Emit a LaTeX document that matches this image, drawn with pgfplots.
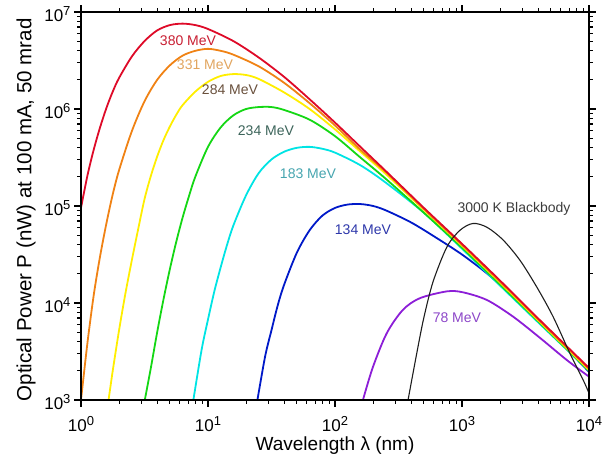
\documentclass[border=0pt]{standalone}
\usepackage{pgfplots}
\pgfplotsset{compat=1.18}
\usepackage{fontspec}
\setmainfont{Liberation Sans}

\definecolor{cRed}{RGB}{222,10,40}
\definecolor{cOrange}{RGB}{240,130,20}
\definecolor{cYellow}{RGB}{255,238,0}
\definecolor{cGreen}{RGB}{20,215,20}
\definecolor{cCyan}{RGB}{0,228,228}
\definecolor{cBlue}{RGB}{0,25,200}
\definecolor{cPurple}{RGB}{140,30,215}
\definecolor{cBlack}{RGB}{30,30,30}

% tick label 10^n in the text font
\newcommand{\tp}[1]{10\raisebox{6pt}{\fontsize{13}{13}\selectfont #1}}

\begin{document}
\begin{tikzpicture}
\begin{axis}[
    scale only axis,
    width=508pt, height=388pt,
    xmode=log, ymode=log,
    xmin=1, xmax=1e4, ymin=1e3, ymax=1e7,
    xtick={1,10,100,1000,10000},
    xticklabels={\tp{0},\tp{1},\tp{2},\tp{3},\tp{4}},
    ytick={1e3,1e4,1e5,1e6,1e7},
    yticklabels={\tp{3},\tp{4},\tp{5},\tp{6},\tp{7}},
    tick align=outside,
    major tick length=7pt, minor tick length=4pt,
    every tick/.style={black, line width=1.2pt},
    axis line style={line width=2.5pt},
    ticklabel style={font=\fontsize{17}{17}\selectfont},
    xticklabel style={yshift=-6pt},
    yticklabel style={yshift=-2pt},
    xlabel={Wavelength λ (nm)},
    ylabel={Optical Power P (nW) at 100 mA, 50 mrad},
    xlabel style={font=\fontsize{19}{19}\selectfont, at={(axis description cs:0.5,-0.118)}, anchor=center},
    ylabel style={font=\fontsize{20.5}{20.5}\selectfont, at={(axis description cs:-0.108,0.49)}, anchor=center},
    axis on top,
    every axis plot/.append style={line width=1.8pt, smooth, tension=0.5},
]
% 78 MeV
\addplot[cPurple] coordinates {(166,1.0e3) (199,2.19e3) (256,4.90e3) (343,8.51e3) (467,1.122e4) (762,1.318e4) (1019,1.288e4) (1574,1.072e4) (2523,7.24e3) (4111,4.37e3) (6714,2.57e3) (10000,1.74e3)};
% 134 MeV
\addplot[cBlue] coordinates {(24.5,1.0e3) (28.18,2.82e3) (31.62,5.25e3) (35.48,9.55e3) (39.81,1.55e4) (50.12,3.31e4) (63.1,5.62e4) (79.43,7.94e4) (100,9.55e4) (125.9,1.035e5) (158.5,1.047e5) (199.5,1.0e5) (251.2,9.02e4) (398.1,6.76e4) (631,4.68e4) (1000,3.16e4) (1585,2.0e4) (2512,1.175e4) (3981,6.61e3) (6310,3.63e3) (10000,1.95e3)};
% 183 MeV
\addplot[cCyan] coordinates {(7.67,1.0e3) (8.913,3.31e3) (10,6.76e3) (11.22,1.32e4) (12.59,2.34e4) (14.13,3.98e4) (15.85,6.31e4) (19.95,1.29e5) (25.12,2.19e5) (31.62,3.02e5) (39.81,3.63e5) (50.12,3.98e5) (63.1,4.07e5) (79.43,3.89e5) (100,3.55e5) (158.5,2.63e5) (251.2,1.74e5) (501.2,8.51e4) (1000,3.63e4) (1995,1.51e4) (3981,6.31e3) (10000,2.0e3)};
% 234 MeV
\addplot[cGreen] coordinates {(3.18,1.0e3) (3.548,2.14e3) (3.981,5.01e3) (4.467,1.096e4) (5.012,2.24e4) (5.623,4.27e4) (6.31,7.59e4) (7.079,1.26e5) (7.943,2.0e5) (10,4.07e5) (12.59,6.46e5) (15.85,8.61e5) (19.95,1.0e6) (25.12,1.047e6) (31.62,1.047e6) (39.81,9.77e5) (63.1,7.76e5) (100,5.25e5) (158.5,3.16e5) (251.2,1.905e5) (501.2,8.51e4) (1000,3.72e4) (1995,1.55e4) (3981,6.46e3) (10000,2.0e3)};
% 284 MeV
\addplot[cYellow] coordinates {(1.648,1.0e3) (1.778,2.0e3) (1.995,5.25e3) (2.239,1.26e4) (2.512,2.75e4) (2.818,5.75e4) (3.162,1.175e5) (3.548,2.04e5) (3.981,3.24e5) (4.467,4.79e5) (5.012,6.61e5) (5.623,8.71e5) (6.31,1.096e6) (7.943,1.51e6) (10,1.905e6) (12.59,2.19e6) (15.85,2.29e6) (19.95,2.24e6) (25.12,2.04e6) (39.81,1.48e6) (63.1,1.0e6) (100,6.17e5) (158.5,3.63e5) (251.2,2.14e5) (501.2,9.12e4) (1000,3.89e4) (1995,1.62e4) (3981,6.61e3) (10000,2.04e3)};
% 331 MeV
\addplot[cOrange] coordinates {(1,1.0e3) (1.122,3.80e3) (1.259,1.20e4) (1.413,3.02e4) (1.585,6.61e4) (1.778,1.318e5) (1.995,2.34e5) (2.512,5.89e5) (3.162,1.20e6) (3.981,2.0e6) (5.012,2.82e6) (6.31,3.55e6) (7.943,3.98e6) (10,4.17e6) (12.59,3.98e6) (15.85,3.63e6) (25.12,2.75e6) (39.81,1.86e6) (63.1,1.148e6) (100,6.76e5) (158.5,3.80e5) (251.2,2.24e5) (501.2,9.33e4) (1000,3.98e4) (1995,1.66e4) (3981,6.76e3) (10000,2.09e3)};
% 380 MeV
\addplot[cRed] coordinates {(1,9.55e4) (1.122,2.04e5) (1.259,3.80e5) (1.413,6.46e5) (1.585,1.023e6) (1.778,1.51e6) (1.995,2.09e6) (2.512,3.47e6) (3.162,5.01e6) (3.981,6.46e6) (5.012,7.33e6) (6.31,7.59e6) (7.943,7.33e6) (10,6.68e6) (15.85,5.01e6) (25.12,3.39e6) (39.81,2.14e6) (63.1,1.26e6) (100,7.24e5) (158.5,4.07e5) (251.2,2.29e5) (501.2,9.55e4) (1000,4.07e4) (1995,1.70e4) (3981,6.92e3) (10000,2.14e3)};
% 3000 K blackbody
\addplot[cBlack, line width=1.1pt] coordinates {(376,1.0e3) (443,3.16e3) (501,7.08e3) (592,1.66e4) (762,3.80e4) (964,5.62e4) (1222,6.61e4) (1574,6.03e4) (2104,4.47e4) (2864,2.75e4) (3899,1.445e4) (5212,7.24e3) (7079,3.02e3) (8974,1.62e3) (10000,1.175e3)};

\begin{scope}[every node/.style={font=\fontsize{14}{14}\selectfont, anchor=center}]
\node[text={rgb,255:red,200;green,30;blue,50}] at (axis cs:6.96,5.1e6) {380 MeV};
\node[text={rgb,255:red,225;green,165;blue,95}] at (axis cs:9.47,2.88e6) {331 MeV};
\node[text={rgb,255:red,105;green,80;blue,60}] at (axis cs:14.9,1.57e6) {284 MeV};
\node[text={rgb,255:red,60;green,100;blue,90}] at (axis cs:28.6,6.0e5) {234 MeV};
\node[text={rgb,255:red,70;green,165;blue,175}] at (axis cs:61.3,2.16e5) {183 MeV};
\node[text={rgb,255:red,45;green,55;blue,170}] at (axis cs:166,5.75e4) {134 MeV};
\node[text={rgb,255:red,60;green,60;blue,60}] at (axis cs:2570,9.33e4) {3000 K Blackbody};
\node[text={rgb,255:red,140;green,70;blue,200}] at (axis cs:912,7.0e3) {78 MeV};
\end{scope}
\end{axis}
\pgfresetboundingbox
\path[use as bounding box] ([shift={(-81pt,-62pt)}]current axis.south west) rectangle ([shift={(15pt,12pt)}]current axis.north east);
\end{tikzpicture}
\end{document}
